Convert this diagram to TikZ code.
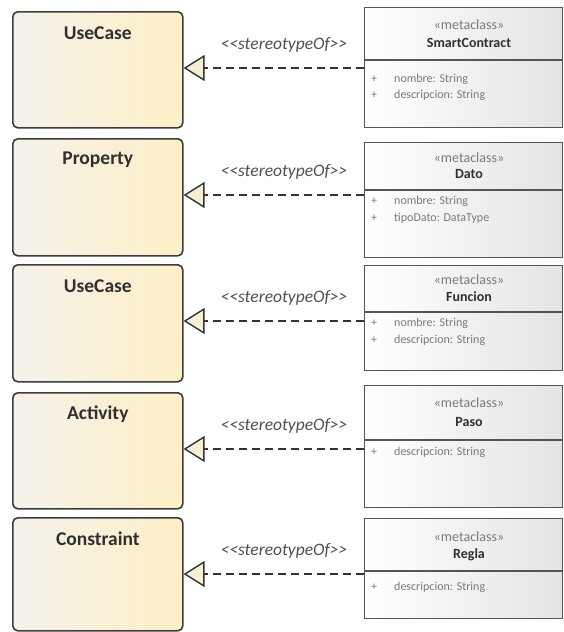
\documentclass[tikz,border=0pt]{standalone}
\usepackage{fontspec}
\setmainfont{Carlito}
\usetikzlibrary{arrows.meta}

\definecolor{ucleft}{HTML}{F4F1EA}
\definecolor{ucright}{HTML}{FDF0C6}
\definecolor{ucborder}{HTML}{3C3C3C}
\definecolor{mcborder}{HTML}{555555}
\definecolor{mcright}{HTML}{E4E4E4}
\definecolor{tipfill}{HTML}{F6F0D2}
\definecolor{labelgray}{HTML}{505050}
\definecolor{attrgray}{HTML}{7A7A7A}
\definecolor{namegray}{HTML}{303030}

\tikzset{
  ucbox/.style={draw=ucborder, line width=1.6pt, rounded corners=5pt,
    left color=ucleft, right color=ucright, anchor=north west,
    minimum width=170pt, inner sep=0pt},
  uctitle/.style={font=\fontsize{19.5}{22}\selectfont\bfseries, text=namegray},
  mcbox/.style={draw=mcborder, line width=1.1pt,
    left color=white, right color=mcright, anchor=north west,
    minimum width=198pt, inner sep=0pt},
  mcsep/.style={draw=mcborder, line width=1.1pt},
  mckeyword/.style={font=\fontsize{14}{16}\selectfont, text=attrgray},
  mcname/.style={font=\fontsize{14}{16}\selectfont\bfseries, text=namegray},
  mcattr/.style={font=\fontsize{12}{14}\selectfont, text=attrgray, anchor=west, inner sep=0pt},
  stlabel/.style={font=\fontsize{17.5}{20}\selectfont\itshape, text=labelgray},
  realize/.style={draw=black!80, line width=1.8pt, dash pattern=on 8pt off 5pt,
    -{Triangle[open, fill=tipfill, length=21pt, width=26pt, line width=1.4pt]}}
}

\begin{document}
\begin{tikzpicture}[x=1pt, y=-1pt]
\useasboundingbox (0,0) rectangle (563,632);

% ---- stereotype boxes on the left ----
\node[ucbox, minimum height=116pt] (l1) at (12,11) {};
\node[ucbox, minimum height=117pt] (l2) at (12,138) {};
\node[ucbox, minimum height=117pt] (l3) at (12,264) {};
\node[ucbox, minimum height=116pt] (l4) at (12,392) {};
\node[ucbox, minimum height=113pt] (l5) at (12,517) {};

\node[uctitle] (l1t) at ([yshift=-22pt]l1.north) {UseCase};
\node[uctitle] (l2t) at ([yshift=-22pt]l2.north) {Property};
\node[uctitle] (l3t) at ([yshift=-22pt]l3.north) {UseCase};
\node[uctitle] (l4t) at ([yshift=-22pt]l4.north) {Activity};
\node[uctitle] (l5t) at ([yshift=-22pt]l5.north) {Constraint};

% ---- metaclasses on the right ----
\node[mcbox, minimum height=120pt] (r1) at (364,7) {};
\node[mcbox, minimum height=115pt] (r2) at (364,142) {};
\node[mcbox, minimum height=105pt] (r3) at (364,265) {};
\node[mcbox, minimum height=122pt] (r4) at (364,385) {};
\node[mcbox, minimum height=100pt] (r5) at (364,518) {};

\draw[mcsep] (r1.west |- 0,60) -- (r1.east |- 0,60);
\draw[mcsep] (r2.west |- 0,190) -- (r2.east |- 0,190);
\draw[mcsep] (r3.west |- 0,312) -- (r3.east |- 0,312);
\draw[mcsep] (r4.west |- 0,440) -- (r4.east |- 0,440);
\draw[mcsep] (r5.west |- 0,571) -- (r5.east |- 0,571);

% headers
\node[mckeyword] (r1k) at (469,25) {«metaclass»};
\node[mcname] (r1n) at (469,43) {SmartContract};
\node[mckeyword] (r2k) at (469,158) {«metaclass»};
\node[mcname] (r2n) at (469,174) {Dato};
\node[mckeyword] (r3k) at (469,280) {«metaclass»};
\node[mcname] (r3n) at (469,297) {Funcion};
\node[mckeyword] (r4k) at (469,403) {«metaclass»};
\node[mcname] (r4n) at (469,422) {Paso};
\node[mckeyword] (r5k) at (469,537) {«metaclass»};
\node[mcname] (r5n) at (469,555) {Regla};

% attributes
\node[mcattr] (r1p1) at (371,79) {+};
\node[mcattr] (r1a1) at (394,79) {nombre: String};
\node[mcattr] (r1p2) at (371,95) {+};
\node[mcattr] (r1a2) at (394,95) {descripcion: String};

\node[mcattr] (r2p1) at (371,201) {+};
\node[mcattr] (r2a1) at (394,201) {nombre: String};
\node[mcattr] (r2p2) at (371,218) {+};
\node[mcattr] (r2a2) at (394,218) {tipoDato: DataType};

\node[mcattr] (r3p1) at (371,323) {+};
\node[mcattr] (r3a1) at (394,323) {nombre: String};
\node[mcattr] (r3p2) at (371,340) {+};
\node[mcattr] (r3a2) at (394,340) {descripcion: String};

\node[mcattr] (r4p1) at (371,452) {+};
\node[mcattr] (r4a1) at (394,452) {descripcion: String};

\node[mcattr] (r5p1) at (371,587) {+};
\node[mcattr] (r5a1) at (394,587) {descripcion: String};

% ---- stereotypeOf relations ----
\coordinate (a1) at (0,68);
\coordinate (a2) at (0,195);
\coordinate (a3) at (0,321);
\coordinate (a4) at (0,449);
\coordinate (a5) at (0,574);

\draw[realize] (r1.west |- a1) -- (l1.east |- a1);
\draw[realize] (r2.west |- a2) -- (l2.east |- a2);
\draw[realize] (r3.west |- a3) -- (l3.east |- a3);
\draw[realize] (r4.west |- a4) -- (l4.east |- a4);
\draw[realize] (r5.west |- a5) -- (l5.east |- a5);

\node[stlabel] (s1) at (284,45) {<{}<stereotypeOf>{}>};
\node[stlabel] (s2) at (284,172) {<{}<stereotypeOf>{}>};
\node[stlabel] (s3) at (284,298) {<{}<stereotypeOf>{}>};
\node[stlabel] (s4) at (284,426) {<{}<stereotypeOf>{}>};
\node[stlabel] (s5) at (284,551) {<{}<stereotypeOf>{}>};
\end{tikzpicture}
\end{document}
